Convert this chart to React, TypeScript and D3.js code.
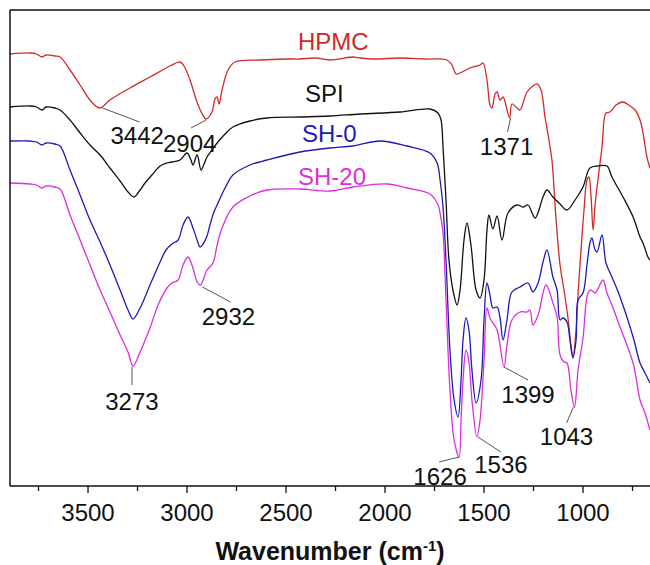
import React from "react";
import * as d3 from "d3";

// Wavenumber (cm-1), transmittance (a.u., offset traces)
const HPMC: [number, number][] = [
  [3894, 432], [3793, 433], [3760, 432], [3732, 429], [3712, 431], [3667, 430], [3641, 429],
  [3591, 416], [3540, 401], [3490, 386], [3442, 378], [3389, 386], [3288, 398], [3187, 409],
  [3086, 420], [3035, 424], [3015, 420], [2985, 406], [2944, 381], [2914, 369], [2904, 367],
  [2874, 374], [2859, 387], [2848, 389], [2838, 382], [2823, 396], [2793, 416], [2758, 424],
  [2631, 426], [2500, 427], [2429, 427], [2350, 428], [2278, 426], [2162, 429], [2126, 428],
  [2050, 427], [1924, 428], [1800, 427], [1687, 426], [1662, 421], [1641, 412], [1621, 413],
  [1571, 418], [1520, 421], [1505, 423], [1485, 406], [1470, 381], [1460, 378], [1444, 392],
  [1434, 394], [1419, 386], [1404, 389], [1371, 368], [1359, 382], [1333, 378], [1318, 376],
  [1283, 394], [1253, 400], [1232, 402], [1212, 396], [1192, 369], [1172, 346], [1157, 326],
  [1136, 266], [1116, 221], [1096, 196], [1076, 168], [1061, 141], [1051, 129], [1035, 156],
  [1025, 193], [1010, 236], [995, 276], [980, 306], [970, 309], [960, 291], [949, 256],
  [939, 281], [929, 299], [904, 339], [884, 373], [864, 374], [833, 381], [798, 384],
  [763, 380], [737, 376], [712, 366], [697, 353], [677, 329], [662, 318]
];

const SPI: [number, number][] = [
  [3894, 379], [3793, 380], [3760, 379], [3732, 376], [3712, 379], [3667, 378], [3641, 376],
  [3591, 366], [3540, 353], [3490, 341], [3439, 331], [3389, 318], [3338, 305], [3298, 294],
  [3268, 289], [3237, 296], [3212, 303], [3177, 311], [3136, 320], [3101, 323], [3076, 324],
  [3035, 326], [3000, 333], [2980, 326], [2970, 321], [2949, 331], [2929, 316], [2914, 322],
  [2899, 329], [2874, 336], [2848, 343], [2808, 352], [2768, 359], [2682, 365], [2596, 368],
  [2429, 369], [2278, 370], [2126, 372], [1924, 374], [1773, 377], [1732, 373], [1717, 366],
  [1707, 339], [1692, 286], [1677, 226], [1657, 196], [1636, 181], [1621, 196], [1601, 246],
  [1586, 263], [1566, 241], [1540, 196], [1520, 188], [1500, 206], [1485, 256], [1475, 271],
  [1455, 257], [1434, 270], [1409, 246], [1379, 273], [1333, 281], [1303, 279], [1278, 281],
  [1242, 268], [1202, 289], [1182, 296], [1152, 289], [1116, 282], [1081, 276], [1040, 286],
  [1000, 299], [965, 318], [924, 320], [879, 320], [854, 309], [798, 289], [747, 269],
  [712, 249], [697, 243], [672, 229], [662, 226]
];

const SH0: [number, number][] = [
  [3894, 345], [3793, 345], [3760, 344], [3732, 341], [3712, 343], [3667, 342], [3641, 340],
  [3591, 316], [3540, 291], [3490, 266], [3439, 244], [3389, 221], [3338, 196], [3298, 176],
  [3273, 167], [3237, 178], [3187, 201], [3136, 224], [3106, 236], [3076, 242], [3045, 246],
  [3020, 261], [2995, 269], [2970, 258], [2949, 246], [2934, 239], [2919, 242], [2899, 250],
  [2884, 261], [2864, 274], [2848, 281], [2808, 298], [2768, 311], [2682, 321], [2596, 326],
  [2429, 334], [2278, 338], [2162, 340], [2025, 345], [1889, 340], [1773, 333], [1737, 323],
  [1722, 306], [1707, 279], [1692, 226], [1672, 136], [1651, 86], [1631, 69], [1616, 106],
  [1606, 146], [1591, 168], [1576, 156], [1561, 116], [1540, 83], [1515, 106], [1500, 166],
  [1485, 203], [1470, 191], [1455, 178], [1434, 179], [1419, 168], [1404, 146], [1384, 166],
  [1359, 194], [1318, 199], [1278, 203], [1253, 194], [1227, 203], [1202, 224], [1182, 236],
  [1152, 209], [1131, 196], [1116, 166], [1101, 168], [1081, 164], [1066, 146], [1051, 128],
  [1035, 146], [1025, 186], [1000, 193], [980, 221], [965, 243], [955, 248], [939, 236],
  [929, 234], [904, 251], [884, 223], [854, 209], [813, 189], [747, 149], [712, 123],
  [687, 113], [662, 103]
];

const SH20: [number, number][] = [
  [3894, 303], [3793, 302], [3760, 301], [3732, 298], [3712, 300], [3667, 299], [3641, 297],
  [3591, 271], [3540, 246], [3490, 221], [3439, 196], [3389, 174], [3338, 151], [3298, 134],
  [3273, 120], [3237, 134], [3187, 158], [3146, 181], [3101, 198], [3076, 203], [3045, 206],
  [3020, 221], [2995, 229], [2970, 218], [2949, 204], [2932, 201], [2919, 206], [2899, 216],
  [2869, 223], [2848, 241], [2823, 258], [2768, 279], [2682, 290], [2596, 296], [2429, 297],
  [2278, 295], [2162, 299], [1990, 302], [1889, 298], [1773, 292], [1732, 281], [1722, 273],
  [1707, 253], [1692, 186], [1672, 96], [1651, 46], [1626, 29], [1616, 66], [1606, 106],
  [1591, 136], [1576, 124], [1561, 86], [1536, 49], [1520, 66], [1500, 126], [1485, 178],
  [1470, 168], [1455, 163], [1434, 156], [1399, 119], [1384, 141], [1359, 166], [1318, 174],
  [1283, 174], [1268, 176], [1253, 161], [1227, 171], [1187, 201], [1152, 183], [1131, 169],
  [1116, 131], [1096, 124], [1081, 123], [1061, 96], [1043, 79], [1025, 116], [1000, 148],
  [975, 193], [960, 196], [939, 193], [899, 206], [879, 193], [854, 181], [813, 159],
  [747, 123], [712, 86], [687, 73], [662, 56]
];

const SERIES_NAMES = ["HPMC", "SPI", "SH-0", "SH-20"];
const SERIES_DATA = [HPMC, SPI, SH0, SH20];
const SERIES_COLORS = ["#d22a2a", "#111111", "#1c1cb4", "#dc2edc"];

const MAJOR_TICKS = [3500, 3000, 2500, 2000, 1500, 1000];
const MINOR_TICKS = [3750, 3250, 2750, 2250, 1750, 1250, 750];

// peak annotations: label, series index
const PEAK_LABELS = ["3442", "2904", "1371", "3273", "2932", "1626", "1536", "1399", "1043"];
const PEAK_SERIES = [0, 0, 0, 3, 3, 3, 3, 3, 3];

// layout for annotations (pixel offsets relative to the peak point)
const ANN_LAYOUT: { l1: [number, number]; l2: [number, number]; t: [number, number]; anchor: string }[] = [
  { l1: [3, 0], l2: [40, 14], t: [11, 36], anchor: "start" },
  { l1: [0, 1], l2: [-15, 9], t: [-43, 33], anchor: "start" },
  { l1: [1, 0], l2: [-2, 14], t: [-3, 37], anchor: "middle" },
  { l1: [-1, 1], l2: [-1, 19], t: [-1, 44], anchor: "middle" },
  { l1: [2, 2], l2: [30, 17], t: [28, 40], anchor: "middle" },
  { l1: [0, 0], l2: [-20, 5], t: [-19, 28], anchor: "middle" },
  { l1: [1, 0], l2: [24, 15], t: [24, 36], anchor: "middle" },
  { l1: [0, 0], l2: [24, 13], t: [24, 36], anchor: "middle" },
  { l1: [-1, 0], l2: [-8, 16], t: [-8, 38], anchor: "middle" },
];

const W = 650;
const H = 565;
const LEFT = 10;
const TOP = 10;
const BOTTOM = 486;

export default function App() {
  const x = d3.scaleLinear().domain([3894, 600]).range([LEFT, LEFT + 3294 * 0.198]);
  const y = d3.scaleLinear().domain([0, 476]).range([BOTTOM, TOP]);
  const line = d3
    .line<[number, number]>()
    .x((d) => x(d[0]))
    .y((d) => y(d[1]))
    .curve(d3.curveCatmullRom.alpha(0.5));

  const font = "'Liberation Sans', Arial, Helvetica, sans-serif";

  const labelPos: [number, number][] = [
    [298, 50],
    [305, 102],
    [302, 142],
    [298, 185],
  ];

  return (
    <svg
      width={W}
      height={H}
      style={{ position: "absolute", left: 0, top: 0, background: "#fff" }}
      fontFamily={font}
    >
      <defs>
        <clipPath id="plot">
          <rect x={LEFT} y={TOP} width={W - LEFT} height={BOTTOM - TOP} />
        </clipPath>
      </defs>
      <rect x={0} y={0} width={W} height={H} fill="#fff" />
      <g clipPath="url(#plot)">
        {SERIES_DATA.map((data, i) => (
          <path key={i} d={line(data) || ""} fill="none" stroke={SERIES_COLORS[i]} strokeWidth={1.3} />
        ))}
      </g>
      {SERIES_NAMES.map((n, i) => (
        <text key={n} x={labelPos[i][0]} y={labelPos[i][1]} fontSize={24} fill={SERIES_COLORS[i]}>
          {n}
        </text>
      ))}
      {PEAK_LABELS.map((lab, i) => {
        const data = SERIES_DATA[PEAK_SERIES[i]];
        const wn = +lab;
        const pt = data.reduce((a, b) => (Math.abs(b[0] - wn) < Math.abs(a[0] - wn) ? b : a));
        const px = x(pt[0]);
        const py = y(pt[1]);
        const L = ANN_LAYOUT[i];
        return (
          <g key={lab}>
            <line
              x1={px + L.l1[0]}
              y1={py + L.l1[1]}
              x2={px + L.l2[0]}
              y2={py + L.l2[1]}
              stroke="#555"
              strokeWidth={1}
            />
            <text x={px + L.t[0]} y={py + L.t[1]} fontSize={24} fill="#111" textAnchor={L.anchor}>
              {lab}
            </text>
          </g>
        );
      })}
      {/* frame */}
      <line x1={LEFT} y1={TOP} x2={W} y2={TOP} stroke="#111" strokeWidth={1.5} />
      <line x1={LEFT} y1={TOP} x2={LEFT} y2={BOTTOM} stroke="#111" strokeWidth={1.5} />
      <line x1={LEFT} y1={BOTTOM} x2={W} y2={BOTTOM} stroke="#111" strokeWidth={1.5} />
      {MAJOR_TICKS.map((t) => (
        <g key={t}>
          <line x1={x(t)} x2={x(t)} y1={BOTTOM} y2={BOTTOM + 7} stroke="#111" strokeWidth={1.3} />
          <text x={x(t)} y={BOTTOM + 35} fontSize={24} textAnchor="middle" fill="#111">
            {t}
          </text>
        </g>
      ))}
      {MINOR_TICKS.map((t) => (
        <line key={t} x1={x(t)} x2={x(t)} y1={BOTTOM} y2={BOTTOM + 5} stroke="#111" strokeWidth={1.3} />
      ))}
      <text x={330} y={560} fontSize={25} fontWeight="bold" textAnchor="middle" fill="#111">
        Wavenumber (cm
        <tspan dy={-9} fontSize={15}>-1</tspan>
        <tspan dy={9}>)</tspan>
      </text>
    </svg>
  );
}
